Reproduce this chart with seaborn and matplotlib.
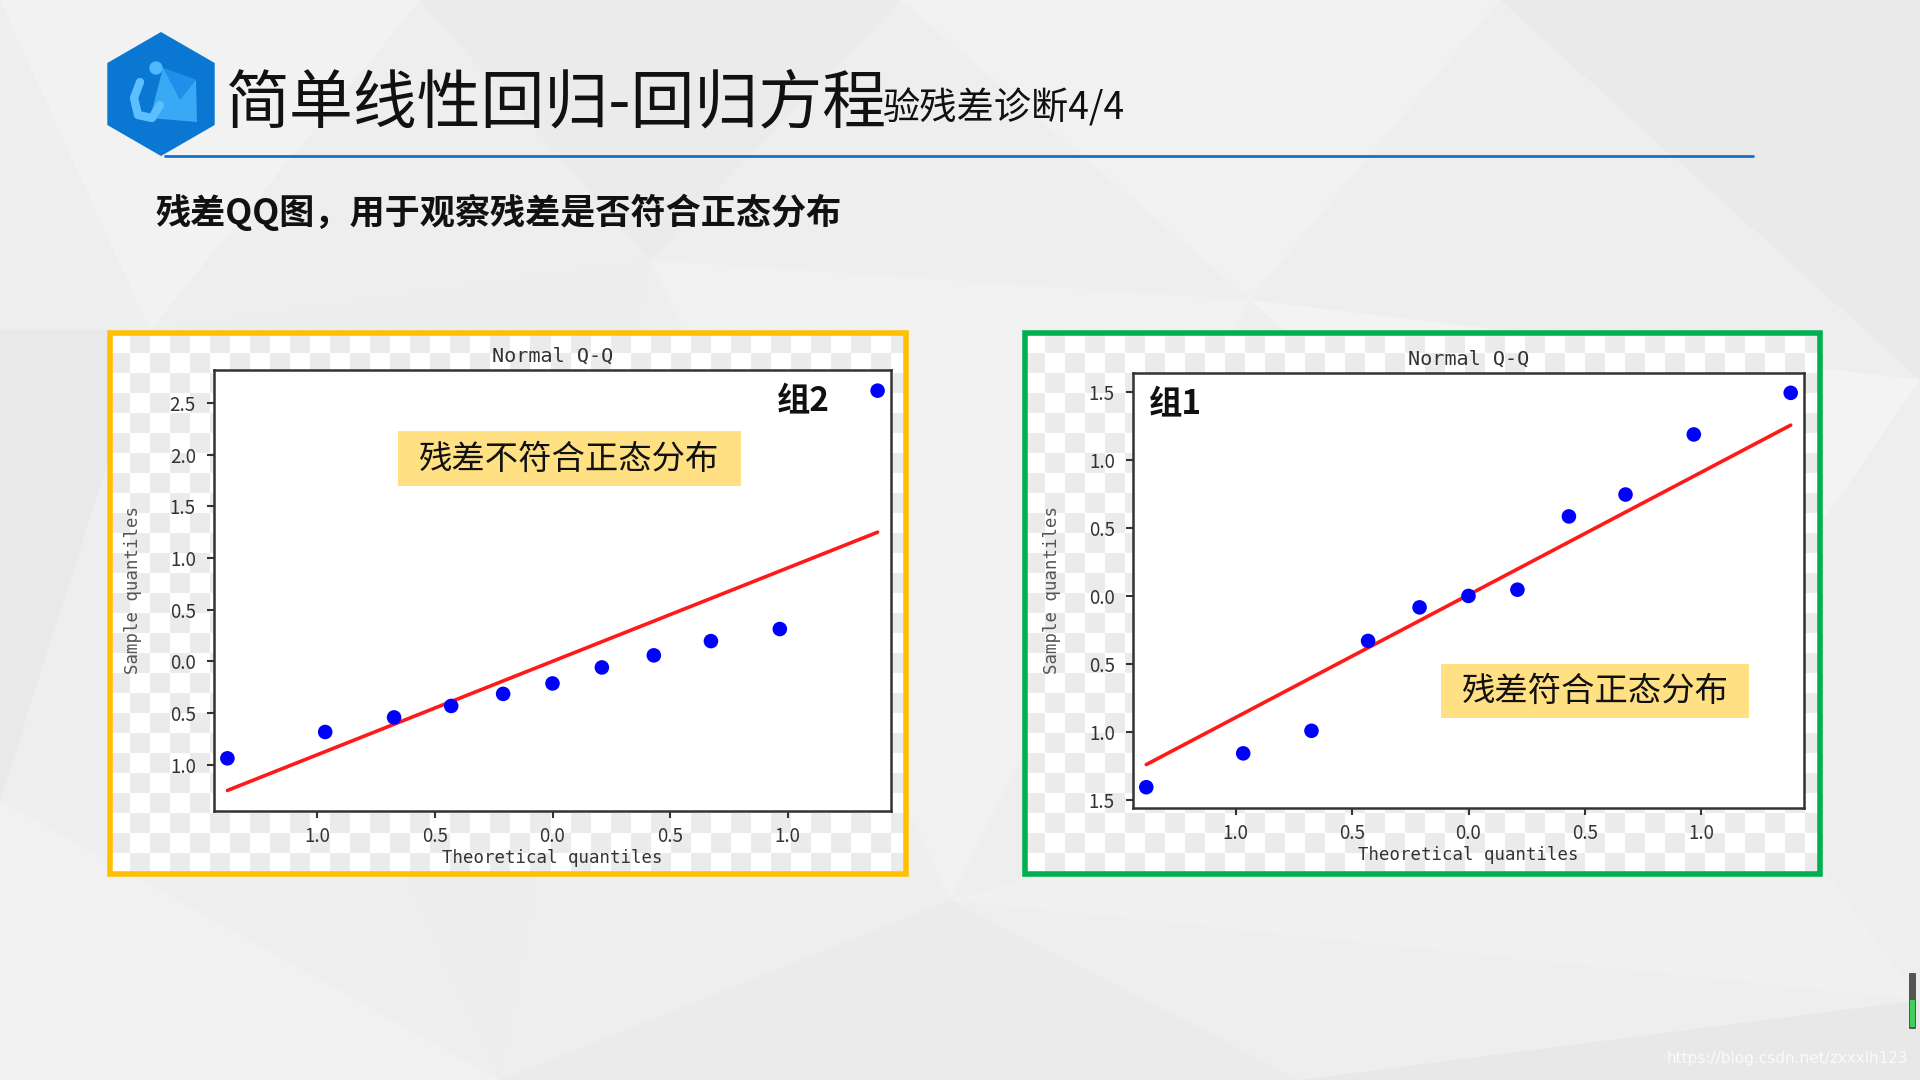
import numpy as np
import pandas as pd
import matplotlib
matplotlib.use("Agg")
import matplotlib.pyplot as plt
import seaborn as sns
from matplotlib.patches import Rectangle, Polygon, RegularPolygon, Circle, FancyBboxPatch

# ---------------- data ----------------
theo_q = [-1.383, -0.967, -0.674, -0.431, -0.210, 0.0, 0.210, 0.431, 0.674, 0.967, 1.383]
group2_resid = [-0.94, -0.685, -0.544, -0.433, -0.316, -0.215, -0.060, 0.057, 0.195, 0.312, 2.62]
group1_resid = [-1.407, -1.158, -0.992, -0.331, -0.084, 0.0, 0.046, 0.585, 0.746, 1.188, 1.494]

x_ticks = [-1.0, -0.5, 0.0, 0.5, 1.0]
x_tick_labels = ["1.0", "0.5", "0.0", "0.5", "1.0"]
y_ticks_g2 = [-1.0, -0.5, 0.0, 0.5, 1.0, 1.5, 2.0, 2.5]
y_tick_labels_g2 = ["1.0", "0.5", "0.0", "0.5", "1.0", "1.5", "2.0", "2.5"]
y_ticks_g1 = [-1.5, -1.0, -0.5, 0.0, 0.5, 1.0, 1.5]
y_tick_labels_g1 = ["1.5", "1.0", "0.5", "0.0", "0.5", "1.0", "1.5"]

title_main = "简单线性回归-回归方程"
title_sub = "验残差诊断4/4"
subtitle = "残差QQ图，用于观察残差是否符合正态分布"
plot_title = "Normal Q-Q"
xlabel = "Theoretical quantiles"
ylabel = "Sample quantiles"
label_g2 = "组2"
label_g1 = "组1"
note_g2 = "残差不符合正态分布"
note_g1 = "残差符合正态分布"
watermark = "https://blog.csdn.net/zxxxlh123"

# ---------------- style ----------------
sns.set_theme(style="ticks")
plt.rcParams['font.family'] = ['Noto Sans CJK SC', 'DejaVu Sans']

W, H = 1920, 1080
fig = plt.figure(figsize=(19.2, 10.8), dpi=100)
fig.patch.set_facecolor("#eeeeee")


def frac_rect(x0, y0, x1, y1):
    return [x0 / W, 1 - y1 / H, (x1 - x0) / W, (y1 - y0) / H]


# background overlay (pixel coords)
bg = fig.add_axes([0, 0, 1, 1], zorder=0)
bg.set_xlim(0, W)
bg.set_ylim(H, 0)
bg.set_axis_off()
bg.add_patch(Rectangle((0, 0), W, H, color="#eeeeee", zorder=0))
tris = [
    ([(0, 0), (420, 0), (150, 330)], "#f2f2f2"),
    ([(420, 0), (900, 0), (650, 260)], "#ebebeb"),
    ([(900, 0), (1500, 0), (1250, 300)], "#f1f1f1"),
    ([(1500, 0), (1920, 0), (1920, 380)], "#eaeaea"),
    ([(1250, 300), (1920, 380), (1700, 700)], "#f3f3f3"),
    ([(0, 330), (150, 330), (0, 800)], "#e9e9e9"),
    ([(0, 800), (500, 1080), (0, 1080)], "#f1f1f1"),
    ([(500, 1080), (950, 900), (1300, 1080)], "#ebebeb"),
    ([(950, 900), (1700, 700), (1920, 1000)], "#f0f0f0"),
    ([(1300, 1080), (1920, 1000), (1920, 1080)], "#e8e8e8"),
    ([(650, 260), (1250, 300), (950, 900)], "#f1f1f1"),
    ([(150, 330), (650, 260), (500, 1080)], "#ededed"),
]
for pts, c in tris:
    bg.add_patch(Polygon(pts, closed=True, color=c, lw=0, zorder=1))

# logo
bg.add_patch(RegularPolygon((161, 94), numVertices=6, radius=62, orientation=0,
                            facecolor="#0a78d2", edgecolor="none", zorder=3))
bg.add_patch(Polygon([(163, 68), (196, 80), (197, 122), (150, 118)], closed=True,
                     facecolor="#39a9f5", edgecolor="none", zorder=4))
bg.add_patch(Polygon([(163, 68), (196, 80), (180, 100)], closed=True,
                     facecolor="#1e90ea", edgecolor="none", zorder=4))
bg.add_patch(Circle((156, 68), 6, color="#4fb8ff", zorder=5))
bg.plot([140, 134, 138, 152, 160], [82, 98, 115, 118, 105], color="#5cc0ff", lw=6,
        solid_capstyle="round", zorder=5)

# header texts
bg.text(226, 122, title_main, fontsize=46, color="#111111", fontweight="light",
        ha="left", va="baseline", zorder=6)
bg.text(883, 120, title_sub, fontsize=26.8, color="#111111", fontweight="medium",
        ha="left", va="baseline", zorder=6)
bg.plot([165, 1753], [156, 156], color="#1570c8", lw=2, zorder=6)
bg.text(155, 212, subtitle, fontsize=25.3, color="#111111", fontweight="bold",
        ha="left", va="center", zorder=6)

# watermark and small bar
bg.text(1908, 1058, watermark, fontsize=11, color="#fafafa", ha="right", va="center",
        family=["DejaVu Sans"], zorder=6)
bg.add_patch(FancyBboxPatch((1910, 974), 5, 54, boxstyle="round,pad=1",
                            facecolor="#555555", edgecolor="none", zorder=6))
bg.add_patch(Rectangle((1910, 1000), 5, 27, facecolor="#3fcf5a", edgecolor="none", zorder=7))


def checker(rect):
    x0, y0, x1, y1 = rect
    cax = fig.add_axes(frac_rect(x0, y0, x1, y1), zorder=1)
    s = 20
    nx = int(np.ceil((x1 - x0) / s))
    ny = int(np.ceil((y1 - y0) / s))
    arr = (np.add.outer(np.arange(ny), np.arange(nx)) % 2).astype(float)
    cax.imshow(arr, cmap=matplotlib.colors.ListedColormap(["#ffffff", "#ebebeb"]),
               extent=(0, nx * s, ny * s, 0), interpolation="nearest", aspect="auto")
    cax.set_xlim(0, x1 - x0)
    cax.set_ylim(y1 - y0, 0)
    cax.set_axis_off()


frames = {
    "g2": (110, 333, 906, 874),
    "g1": (1025, 333, 1820, 874),
}
checker(frames["g2"])
checker(frames["g1"])


def qq_panel(rect, sample, yticks, yticklabels, xlim, ylim):
    ax = fig.add_axes(frac_rect(*rect), zorder=2)
    ax.set_facecolor("white")
    df = pd.DataFrame({"theo": theo_q, "sample": sample})
    mu = float(np.mean(df["sample"]))
    sd = float(np.std(df["sample"]))
    df["fit"] = mu + sd * df["theo"]
    sns.lineplot(data=df, x="theo", y="fit", ax=ax, color="#ff1a1a", lw=2.6, zorder=2)
    sns.scatterplot(data=df, x="theo", y="sample", ax=ax, color="#0000ff", s=110,
                    edgecolor="none", zorder=3)
    ax.set_xlim(*xlim)
    ax.set_ylim(*ylim)
    ax.set_xticks(x_ticks)
    ax.set_xticklabels(x_tick_labels)
    ax.set_yticks(yticks)
    ax.set_yticklabels(yticklabels)
    ax.tick_params(axis="both", labelsize=13.5, colors="#333333", length=5, width=1.5,
                   direction="out", pad=8)
    ax.tick_params(axis="x", pad=6)
    for sp in ax.spines.values():
        sp.set_color("#333333")
        sp.set_linewidth(1.8)
    ax.set_title(plot_title, fontsize=14.5, color="#333333", pad=6,
                 family=["DejaVu Sans Mono"])
    ax.set_xlabel(xlabel, fontsize=12.5, color="#333333", labelpad=1,
                  family=["DejaVu Sans Mono"])
    ax.set_ylabel(ylabel, fontsize=12.5, color="#555555", labelpad=20,
                  family=["DejaVu Sans Mono"])
    return ax


ax2 = qq_panel((214, 370, 891, 811), group2_resid, y_ticks_g2, y_tick_labels_g2,
               (-1.44, 1.44), (-1.45, 2.82))
ax1 = qq_panel((1133, 373, 1804, 808), group1_resid, y_ticks_g1, y_tick_labels_g1,
               (-1.44, 1.44), (-1.56, 1.64))

# top overlay for frames & annotations
top = fig.add_axes([0, 0, 1, 1], zorder=5)
top.set_xlim(0, W)
top.set_ylim(H, 0)
top.set_axis_off()
top.patch.set_alpha(0)

x0, y0, x1, y1 = frames["g2"]
top.add_patch(Rectangle((x0, y0), x1 - x0, y1 - y0, fill=False, edgecolor="#ffc000", lw=4))
x0, y0, x1, y1 = frames["g1"]
top.add_patch(Rectangle((x0, y0), x1 - x0, y1 - y0, fill=False, edgecolor="#00b050", lw=4))

top.text(803, 402, label_g2, fontsize=24, fontweight="bold", color="#111111",
         ha="center", va="center")
top.text(1175, 405, label_g1, fontsize=24, fontweight="bold", color="#111111",
         ha="center", va="center")

top.add_patch(Rectangle((398, 431), 343, 55, facecolor="#ffe083", edgecolor="none"))
top.text(569.5, 459, note_g2, fontsize=24, color="#111111", ha="center", va="center")
top.add_patch(Rectangle((1441, 664), 308, 54, facecolor="#ffe083", edgecolor="none"))
top.text(1595, 691, note_g1, fontsize=24, color="#111111", ha="center", va="center")

fig.savefig("out.png", dpi=100, facecolor=fig.get_facecolor())
